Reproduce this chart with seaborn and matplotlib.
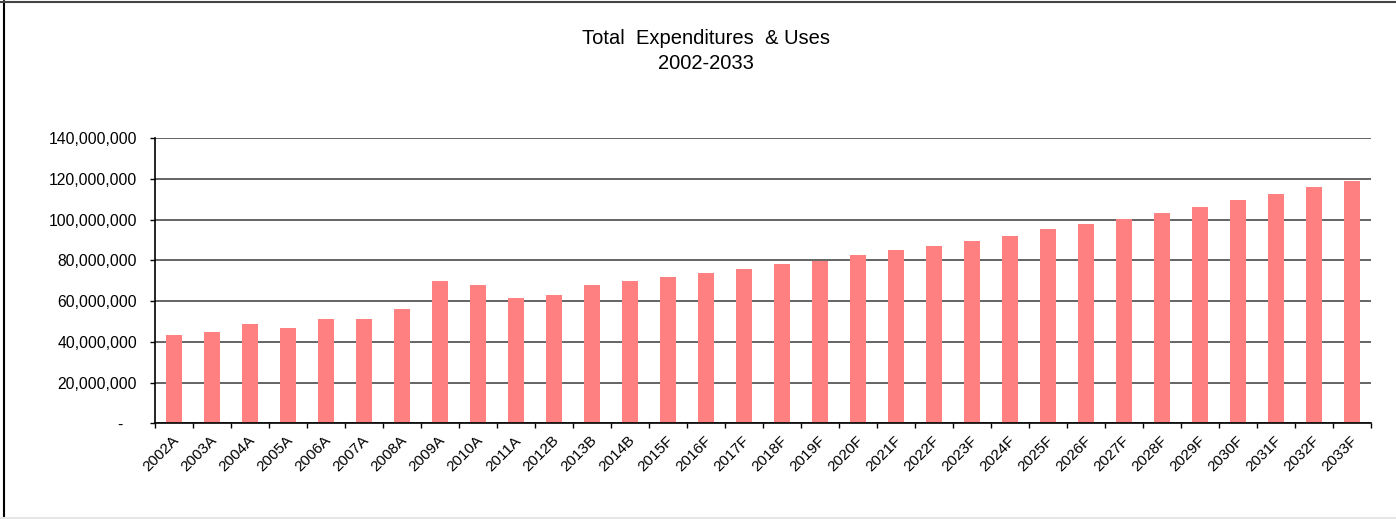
import matplotlib
matplotlib.use("Agg")
import matplotlib.pyplot as plt
import matplotlib.ticker as mticker
import matplotlib.transforms as mtransforms
from matplotlib.lines import Line2D
import numpy as np
import pandas as pd
import seaborn as sns

# Fiscal years: A = actual, B = budget, F = forecast
years = ["2002A", "2003A", "2004A", "2005A", "2006A", "2007A", "2008A", "2009A",
         "2010A", "2011A", "2012B", "2013B", "2014B", "2015F", "2016F", "2017F",
         "2018F", "2019F", "2020F", "2021F", "2022F", "2023F", "2024F", "2025F",
         "2026F", "2027F", "2028F", "2029F", "2030F", "2031F", "2032F", "2033F"]

# Total expenditures & uses, dollars
expenditures = [43_300_000, 44_800_000, 48_600_000, 46_600_000, 51_000_000, 51_000_000,
                56_100_000, 69_800_000, 68_000_000, 61_700_000, 63_000_000, 68_000_000,
                69_800_000, 71_800_000, 73_600_000, 75_600_000, 78_000_000, 79_800_000,
                82_400_000, 84_900_000, 86_800_000, 89_300_000, 91_900_000, 95_200_000,
                97_600_000, 100_100_000, 103_200_000, 106_300_000, 109_400_000,
                112_700_000, 115_800_000, 118_900_000]

y_ticks = [0, 20_000_000, 40_000_000, 60_000_000, 80_000_000, 100_000_000,
           120_000_000, 140_000_000]

title_text = "Total  Expenditures  & Uses\n2002-2033"

df = pd.DataFrame({"year": years, "total": expenditures})

sns.set_theme(style="white")
plt.rcParams["font.family"] = ["Liberation Sans", "DejaVu Sans"]

W, H, DPI = 1396, 519, 100
fig = plt.figure(figsize=(W / DPI, H / DPI), dpi=DPI)
fig.patch.set_facecolor("white")

left, right, top, bottom = 155, 1371, 138, 423.3
ax = fig.add_axes([left / W, 1 - bottom / H, (right - left) / W, (bottom - top) / H])

sns.barplot(data=df, x="year", y="total", color="#FF8080", saturation=1,
            width=0.4, edgecolor="none", ax=ax)

n = len(years)
ax.set_xlim(-0.5, n - 0.5)
ax.set_ylim(0, 140_000_000)
ax.set_yticks(y_ticks)
ax.yaxis.set_major_formatter(
    mticker.FuncFormatter(lambda v, _: "-   " if v == 0 else f"{v:,.0f}"))

# Horizontal gridlines behind the bars
ax.set_axisbelow(True)
ax.yaxis.grid(True, color="#4a4a4a", linewidth=1.2)
ax.xaxis.grid(False)

# Category labels at bar centres, tick marks on category boundaries
ax.set_xticks(np.arange(n))
ax.set_xticks(np.arange(n + 1) - 0.5, minor=True)
ax.tick_params(axis="x", which="major", length=0, pad=8)
ax.tick_params(axis="x", which="minor", length=3.6, width=1, color="black",
               direction="out", bottom=True)
ax.set_xticklabels(years, rotation=45, ha="right", va="center",
                   rotation_mode="anchor", fontsize=11, color="black")
shift = mtransforms.ScaledTranslation(3 / DPI, -4 / DPI, fig.dpi_scale_trans)
for lbl in ax.get_xticklabels():
    lbl.set_transform(lbl.get_transform() + shift)

ax.tick_params(axis="y", which="major", length=3.6, width=1, color="black",
               direction="out", left=True, pad=9.4, labelsize=11.3, labelcolor="black")

ax.set_xlabel("")
ax.set_ylabel("")

for side in ("top", "right"):
    ax.spines[side].set_visible(False)
for side in ("left", "bottom"):
    ax.spines[side].set_visible(True)
    ax.spines[side].set_color("black")
    ax.spines[side].set_linewidth(1.2)

fig.text(706 / W, 1 - 51 / H, title_text, ha="center", va="center",
         fontsize=14.5, color="black", linespacing=1.38)

# Frame lines around the chart area
fig.add_artist(Line2D([3.5 / W, 3.5 / W], [0, 1 - 1 / H], transform=fig.transFigure,
                      color="black", linewidth=1.5))
fig.add_artist(Line2D([0, 1], [1 - 1.5 / H, 1 - 1.5 / H], transform=fig.transFigure,
                      color="#444444", linewidth=1.5))
fig.add_artist(Line2D([0, 1], [1.5 / H, 1.5 / H], transform=fig.transFigure,
                      color="#e6e6e6", linewidth=1.5))

fig.savefig("out.png", dpi=DPI, facecolor="white")
